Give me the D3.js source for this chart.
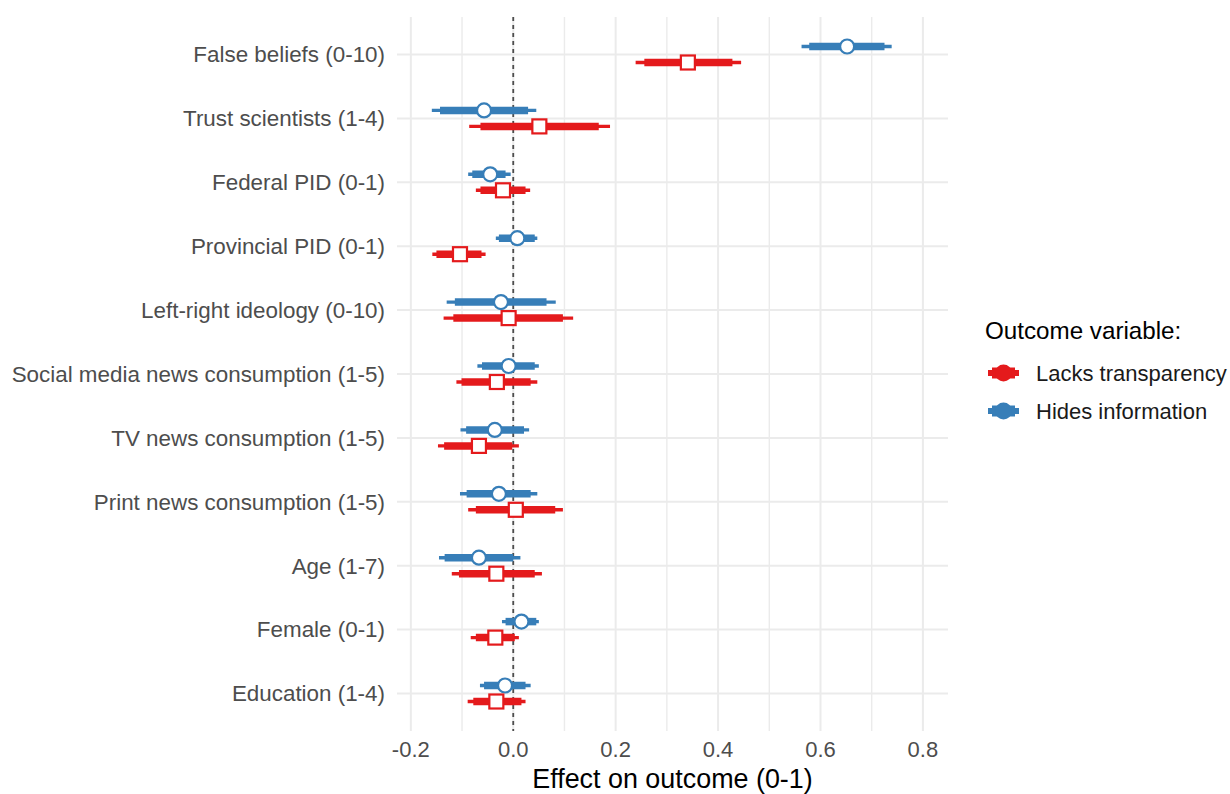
<!DOCTYPE html>
<html>
<head>
<meta charset="utf-8">
<script src="https://cdn.jsdelivr.net/npm/d3@7"></script>
<style>
  body { margin: 0; background: #fff; }
  svg { display: block; font-family: "Liberation Sans", Arial, sans-serif; }
</style>
</head>
<body>
<div id="chart"></div>
<script>
// Predictors (top to bottom)
const categories = [
    "False beliefs (0-10)", "Trust scientists (1-4)", "Federal PID (0-1)",
    "Provincial PID (0-1)", "Left-right ideology (0-10)",
    "Social media news consumption (1-5)", "TV news consumption (1-5)",
    "Print news consumption (1-5)", "Age (1-7)", "Female (0-1)", "Education (1-4)"
];

// Hides information (blue)
const hidesEst  = [0.652, -0.057, -0.045, 0.008, -0.024, -0.009, -0.036, -0.028, -0.067, 0.016, -0.016];
const hidesLo66 = [0.578, -0.143, -0.080, -0.028, -0.114, -0.061, -0.092, -0.091, -0.134, -0.015, -0.057];
const hidesHi66 = [0.725, 0.029, -0.015, 0.042, 0.065, 0.042, 0.021, 0.034, 0.000, 0.045, 0.024];
const hidesLo95 = [0.563, -0.159, -0.088, -0.034, -0.130, -0.070, -0.103, -0.104, -0.145, -0.022, -0.065];
const hidesHi95 = [0.739, 0.045, -0.005, 0.047, 0.083, 0.050, 0.031, 0.047, 0.014, 0.050, 0.034];

// Lacks transparency (red)
const lacksEst  = [0.341, 0.051, -0.020, -0.104, -0.009, -0.032, -0.067, 0.005, -0.033, -0.035, -0.033];
const lacksLo66 = [0.256, -0.064, -0.064, -0.150, -0.117, -0.101, -0.135, -0.073, -0.106, -0.073, -0.078];
const lacksHi66 = [0.428, 0.167, 0.024, -0.062, 0.097, 0.034, -0.002, 0.082, 0.042, 0.003, 0.016];
const lacksLo95 = [0.239, -0.086, -0.073, -0.158, -0.136, -0.111, -0.147, -0.088, -0.120, -0.083, -0.089];
const lacksHi95 = [0.445, 0.189, 0.033, -0.054, 0.117, 0.047, 0.011, 0.097, 0.056, 0.011, 0.024];

const xTicks = [-0.2, 0.0, 0.2, 0.4, 0.6, 0.8];
const xMinorTicks = [-0.1, 0.1, 0.3, 0.5, 0.7];
const legendLabels = ["Lacks transparency", "Hides information"];
const colors = ["#E41A1C", "#377EB8"];

// Layout
const width = 1230;
const height = 794;
const panelLeft = 397;
const panelRight = 948;
const panelTop = 17;
const panelBottom = 731;

const x = d3.scaleLinear()
    .domain([-0.227, 0.849])
    .range([panelLeft, panelRight]);

const y = d3.scalePoint()
    .domain(categories)
    .range([54.5, 693.5]);

const svg = d3.select("#chart").append("svg")
    .attr("width", width)
    .attr("height", height)
    .attr("viewBox", [0, 0, width, height]);

// Grid lines
svg.append("g")
    .selectAll()
    .data(xMinorTicks)
    .join("line")
        .attr("x1", d => x(d)).attr("x2", d => x(d))
        .attr("y1", panelTop).attr("y2", panelBottom)
        .attr("stroke", "#ebebeb")
        .attr("stroke-width", 1.4);

svg.append("g")
    .selectAll()
    .data(xTicks)
    .join("line")
        .attr("x1", d => x(d)).attr("x2", d => x(d))
        .attr("y1", panelTop).attr("y2", panelBottom)
        .attr("stroke", "#ebebeb")
        .attr("stroke-width", 2);

svg.append("g")
    .selectAll()
    .data(categories)
    .join("line")
        .attr("x1", panelLeft).attr("x2", panelRight)
        .attr("y1", d => y(d)).attr("y2", d => y(d))
        .attr("stroke", "#ebebeb")
        .attr("stroke-width", 2);

// Zero reference line
svg.append("line")
    .attr("x1", x(0)).attr("x2", x(0))
    .attr("y1", panelTop).attr("y2", panelBottom)
    .attr("stroke", "#4d4d4d")
    .attr("stroke-width", 1.8)
    .attr("stroke-dasharray", "4,4");

// Build series for drawing
const series = [
    { key: "hides", color: colors[1], shape: "circle", dy: -8,
      est: hidesEst, lo66: hidesLo66, hi66: hidesHi66, lo95: hidesLo95, hi95: hidesHi95 },
    { key: "lacks", color: colors[0], shape: "square", dy: 8,
      est: lacksEst, lo66: lacksLo66, hi66: lacksHi66, lo95: lacksLo95, hi95: lacksHi95 }
];

series.forEach(s => {
    const rows = categories.map((c, i) => ({
        c, est: s.est[i], lo66: s.lo66[i], hi66: s.hi66[i], lo95: s.lo95[i], hi95: s.hi95[i]
    }));
    const g = svg.append("g");

    // thin (outer) interval
    g.selectAll(".thin")
        .data(rows)
        .join("line")
            .attr("x1", d => x(d.lo95)).attr("x2", d => x(d.hi95))
            .attr("y1", d => y(d.c) + s.dy).attr("y2", d => y(d.c) + s.dy)
            .attr("stroke", s.color)
            .attr("stroke-width", 3.4);

    // thick (inner) interval
    g.selectAll(".thick")
        .data(rows)
        .join("line")
            .attr("x1", d => x(d.lo66)).attr("x2", d => x(d.hi66))
            .attr("y1", d => y(d.c) + s.dy).attr("y2", d => y(d.c) + s.dy)
            .attr("stroke", s.color)
            .attr("stroke-width", 7.5);

    // point estimate
    if (s.shape === "circle") {
        g.selectAll(".pt")
            .data(rows)
            .join("circle")
                .attr("cx", d => x(d.est))
                .attr("cy", d => y(d.c) + s.dy)
                .attr("r", 7)
                .attr("fill", "#fff")
                .attr("stroke", s.color)
                .attr("stroke-width", 2.2);
    } else {
        g.selectAll(".pt")
            .data(rows)
            .join("rect")
                .attr("x", d => x(d.est) - 7)
                .attr("y", d => y(d.c) + s.dy - 7)
                .attr("width", 14)
                .attr("height", 14)
                .attr("fill", "#fff")
                .attr("stroke", s.color)
                .attr("stroke-width", 2.2);
    }
});

// Y axis labels
svg.append("g")
    .selectAll()
    .data(categories)
    .join("text")
        .attr("x", 385)
        .attr("y", d => y(d))
        .attr("dy", "0.35em")
        .attr("text-anchor", "end")
        .attr("font-size", 22.4)
        .attr("fill", "#4d4d4d")
        .text(d => d);

// X axis labels
svg.append("g")
    .selectAll()
    .data(xTicks)
    .join("text")
        .attr("x", d => x(d))
        .attr("y", 757)
        .attr("text-anchor", "middle")
        .attr("font-size", 22)
        .attr("fill", "#4d4d4d")
        .text(d => d3.format(".1f")(d).replace("−", "-"));

svg.append("text")
    .attr("x", (panelLeft + panelRight) / 2)
    .attr("y", 788)
    .attr("text-anchor", "middle")
    .attr("font-size", 26.9)
    .attr("fill", "#000")
    .text("Effect on outcome (0-1)");

// Legend
const legend = svg.append("g").attr("transform", "translate(985,0)");
legend.append("text")
    .attr("x", 0)
    .attr("y", 339)
    .attr("font-size", 24.2)
    .attr("fill", "#000")
    .text("Outcome variable:");

const legendY = d3.scalePoint().domain(legendLabels).range([373, 411]);
const keys = legend.selectAll(".key")
    .data(legendLabels)
    .join("g")
        .attr("transform", d => `translate(0,${legendY(d)})`);
keys.append("line")
    .attr("x1", 3).attr("x2", 34)
    .attr("stroke", (d, i) => colors[i])
    .attr("stroke-width", 6);
keys.append("line")
    .attr("x1", 7).attr("x2", 30)
    .attr("stroke", (d, i) => colors[i])
    .attr("stroke-width", 11);
keys.append("circle")
    .attr("cx", 18.5)
    .attr("r", 8.5)
    .attr("fill", (d, i) => colors[i]);
keys.append("text")
    .attr("x", 51)
    .attr("dy", "0.35em")
    .attr("font-size", 22)
    .attr("fill", "#1a1a1a")
    .text(d => d);
</script>
</body>
</html>
